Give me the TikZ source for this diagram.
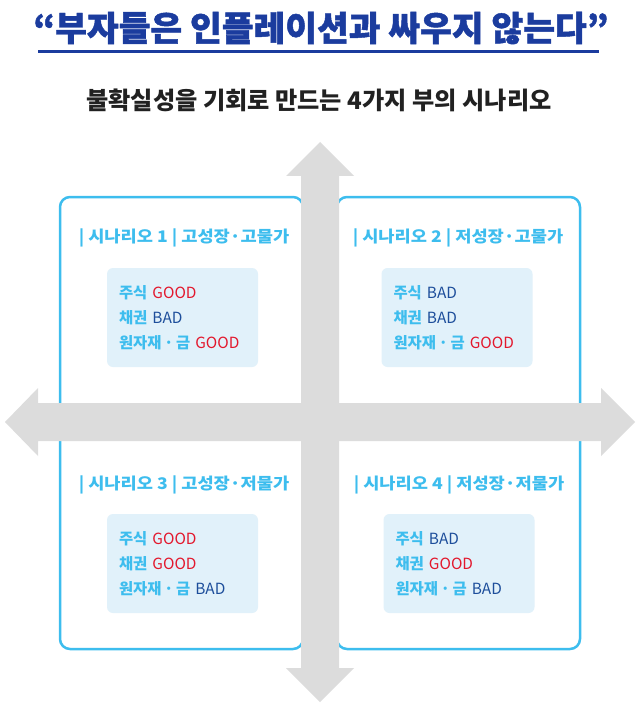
\documentclass[tikz,border=0pt]{standalone}
\usepackage{fontspec}
\setmainfont{Noto Sans CJK KR}
\newfontfamily\titlefont[BoldFeatures={FakeBold=1.3}]{Noto Sans CJK KR}
\newfontfamily\headfont[FakeStretch=1.1]{Noto Sans CJK KR}
\definecolor{titleblue}{HTML}{1B3C9E}
\definecolor{skyline}{HTML}{3DBDEE}
\definecolor{panelbg}{HTML}{E1F1FA}
\definecolor{goodred}{HTML}{E3182D}
\definecolor{badblue}{HTML}{1D4E9B}
\definecolor{arrowgray}{HTML}{DCDCDC}
\newcommand\good{\textcolor{goodred}{\mdseries GOOD}}
\newcommand\bad{\textcolor{badblue}{\mdseries BAD}}
\newcommand\metal{원자재\,·\,금}

\begin{document}
\begin{tikzpicture}[x=1pt,y=-1pt,
  frame/.style={draw=skyline, line width=2.5pt, rounded corners=10pt, fill=white},
  head/.style={text=skyline, font=\fontsize{16}{18}\headfont\bfseries},
  panel/.style={fill=panelbg, rounded corners=6pt, text=skyline, align=left,
    text width=127pt, inner xsep=12pt, minimum height=99pt,
    font=\fontsize{15.4}{25}\selectfont\bfseries}]
  \useasboundingbox (0,0) rectangle (640,714);

  % title
  \node[text=titleblue, font=\fontsize{34.5}{36}\titlefont\bfseries] (title) at (321,28)
    {“부자들은 인플레이션과 싸우지 않는다”};
  \draw[titleblue, line width=3pt] (38,52) -- (599,52);
  \node[text=black!87, font=\fontsize{24.2}{26}\selectfont\bfseries] (sub) at (319,100)
    {불확실성을 기회로 만드는 4가지 부의 시나리오};

  % quadrant frames
  \draw[frame] (60,197) rectangle (303,418);
  \draw[frame] (337,197) rectangle (580,418);
  \draw[frame] (60,427) rectangle (303,649);
  \draw[frame] (337,427) rectangle (580,649);

  % axes
  \fill[arrowgray] (5,422) -- (38,388) -- (38,403) -- (601,403) -- (601,388)
    -- (635,422) -- (601,456) -- (601,441) -- (38,441) -- (38,456) -- cycle;
  \fill[arrowgray] (320,142) -- (354,176) -- (339,176) -- (339,668) -- (354,668)
    -- (320,702) -- (286,668) -- (301,668) -- (301,176) -- (286,176) -- cycle;

  % scenarios
  \node[head] (h1) at (184,238) {| 시나리오 1 | 고성장·고물가};
  \node[head] (h2) at (458,238) {| 시나리오 2 | 저성장·고물가};
  \node[head] (h3) at (184,485) {| 시나리오 3 | 고성장·저물가};
  \node[head] (h4) at (459,485) {| 시나리오 4 | 저성장·저물가};

  \node[panel] (p1) at (182.5,317.5) {주식 \good\\채권 \bad\\\metal{} \good};
  \node[panel] (p2) at (457,317.5) {주식 \bad\\채권 \bad\\\metal{} \good};
  \node[panel] (p3) at (182.5,563.5) {주식 \good\\채권 \good\\\metal{} \bad};
  \node[panel] (p4) at (459,563.5) {주식 \bad\\채권 \good\\\metal{} \bad};
\end{tikzpicture}
\end{document}
